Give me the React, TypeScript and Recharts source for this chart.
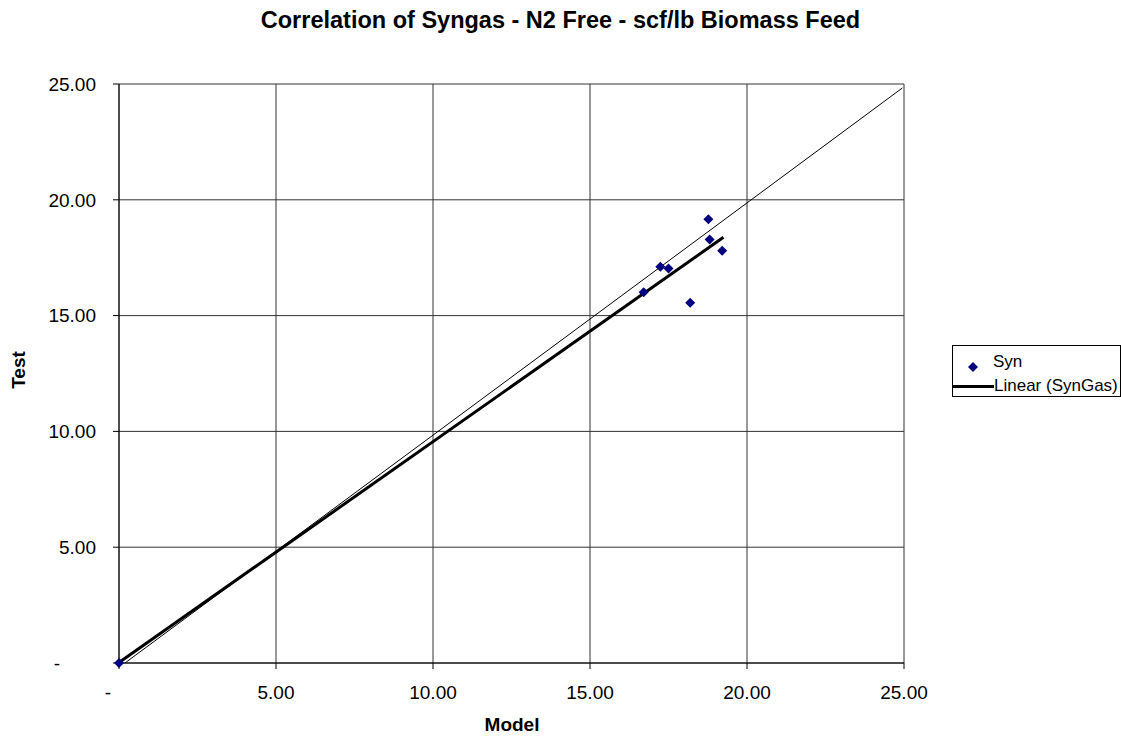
import {
  ScatterChart, Scatter, XAxis, YAxis, CartesianGrid,
} from 'recharts'

// Syn points: model (x) vs test (y)
const modelValues = [0, 16.71, 17.24, 17.5, 18.19, 18.77, 18.81, 19.21]
const testValues = [0, 16.01, 17.11, 17.03, 15.56, 19.16, 18.29, 17.8]

// thin 1:1 reference line
const refX = [0.19, 24.95]
const refY = [0, 24.83]

// linear trend (SynGas)
const trendX = [0, 19.25]
const trendY = [0.02, 18.38]

const axisTicks = [0, 5, 10, 15, 20, 25]

const synData = modelValues.map((x, i) => ({ x, y: testValues[i] }))
const refData = refX.map((x, i) => ({ x, y: refY[i] }))
const trendData = trendX.map((x, i) => ({ x, y: trendY[i] }))

const FONT = '"Liberation Sans", Arial, sans-serif'
const fmt = (v: number) => (v === 0 ? '-' : v.toFixed(2))

function Diamond(props: { cx?: number; cy?: number }) {
  const { cx = 0, cy = 0 } = props
  const r = 5
  return <polygon points={`${cx},${cy - r} ${cx + r},${cy} ${cx},${cy + r} ${cx - r},${cy}`} fill="#000080" />
}

const NoShape = () => <g />

function YTick(props: { x?: number; y?: number; payload?: { value: number } }) {
  const { x = 0, y = 0, payload } = props
  const v = payload?.value ?? 0
  return (
    <text x={v === 0 ? x - 36 : x} y={y} dy="0.355em" textAnchor="end" fill="#000" fontSize={19} fontFamily={FONT}>
      {fmt(v)}
    </text>
  )
}

function XTick(props: { x?: number; y?: number; payload?: { value: number } }) {
  const { x = 0, y = 0, payload } = props
  const v = payload?.value ?? 0
  return (
    <text x={v === 0 ? x - 11 : x} y={y} dy="0.71em" textAnchor="middle" fill="#000" fontSize={19} fontFamily={FONT}>
      {fmt(v)}
    </text>
  )
}

export default function App() {
  return (
    <div style={{ position: 'absolute', left: 0, top: 0, width: 1121, height: 738, background: '#fff', fontFamily: FONT }}>
      <div style={{ position: 'absolute', left: 0, width: 1121, top: 7, textAlign: 'center', fontSize: 23.5, fontWeight: 'bold', whiteSpace: 'nowrap' }}>
        Correlation of Syngas - N2 Free - scf/lb Biomass Feed
      </div>

      <ScatterChart width={1121} height={738} margin={{ top: 84, right: 217, bottom: 45, left: 0 }}>
        <CartesianGrid stroke="#333" strokeWidth={1} horizontalValues={axisTicks} verticalValues={axisTicks} />
        <XAxis
          type="number" dataKey="x" domain={[0, 25]} ticks={axisTicks} height={30}
          axisLine={{ stroke: '#000' }} tickLine={{ stroke: '#000' }} tickSize={6} tickMargin={17}
          tick={<XTick />} interval={0}
        />
        <YAxis
          type="number" dataKey="y" domain={[0, 25]} ticks={axisTicks} width={119}
          axisLine={{ stroke: '#000' }} tickLine={{ stroke: '#000' }} tickSize={6} tickMargin={17}
          tick={<YTick />} interval={0}
        />
        <Scatter name="ref" data={refData} fill="#000" line={{ strokeWidth: 1 }} lineType="joint" shape={NoShape} legendType="none" isAnimationActive={false} />
        <Scatter name="Linear (SynGas)" data={trendData} fill="#000" line={{ strokeWidth: 3 }} lineType="joint" shape={NoShape} isAnimationActive={false} />
        <Scatter name="Syn" data={synData} fill="#000080" shape={<Diamond />} isAnimationActive={false} />
      </ScatterChart>

      <div style={{ position: 'absolute', left: 512, top: 714, transform: 'translateX(-50%)', fontSize: 19, fontWeight: 'bold' }}>
        Model
      </div>
      <div style={{ position: 'absolute', left: 19, top: 370, transform: 'translate(-50%, -50%) rotate(-90deg)', fontSize: 19, fontWeight: 'bold' }}>
        Test
      </div>

      <div style={{ position: 'absolute', left: 952, top: 345, width: 167, height: 50, border: '1px solid #000', fontSize: 17 }}>
        <div style={{ position: 'absolute', left: 15, top: 11, width: 10, height: 10 }}>
          <svg width={10} height={10}><polygon points="5,0 10,5 5,10 0,5" fill="#000080" /></svg>
        </div>
        <div style={{ position: 'absolute', left: 40, top: 6, lineHeight: '20px' }}>Syn</div>
        <div style={{ position: 'absolute', left: 0, top: 39, width: 41, height: 3, background: '#000' }} />
        <div style={{ position: 'absolute', left: 41, top: 30, lineHeight: '20px' }}>Linear (SynGas)</div>
      </div>
    </div>
  )
}
